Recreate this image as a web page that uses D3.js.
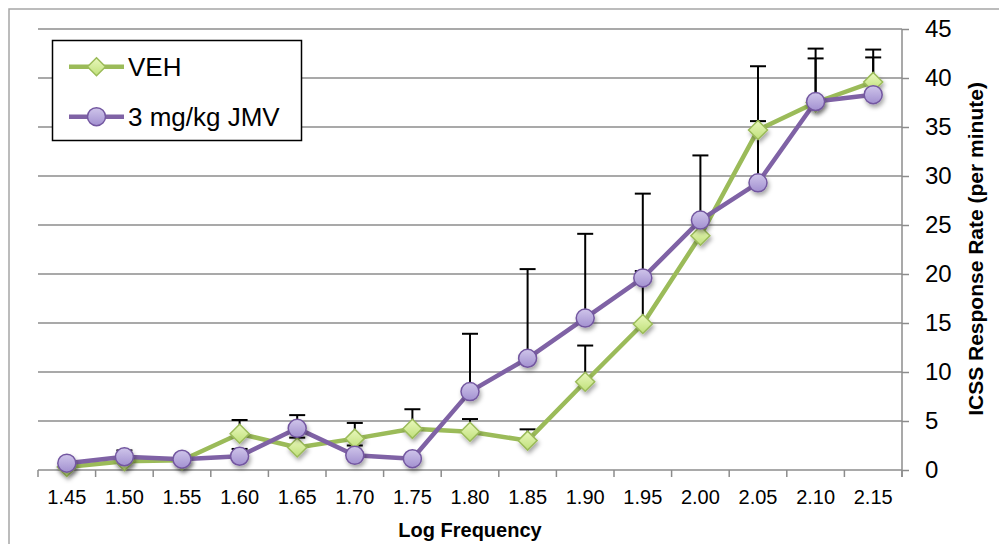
<!DOCTYPE html>
<html>
<head>
<meta charset="utf-8">
<script src="https://cdn.jsdelivr.net/npm/d3@7/dist/d3.min.js"></script>
<style>
  html, body { margin: 0; padding: 0; background: #fff; }
  svg { display: block; font-family: "Liberation Sans", Arial, sans-serif; }
</style>
</head>
<body>
<svg id="chart" width="999" height="544"></svg>
<script>
// Log stimulation frequency categories
const categories = ["1.45","1.50","1.55","1.60","1.65","1.70","1.75","1.80","1.85","1.90","1.95","2.00","2.05","2.10","2.15"];

// ICSS response rate (per minute), vehicle group
const vehValues = [0.3, 0.9, 1.0, 3.7, 2.3, 3.2, 4.2, 3.9, 3.0, 9.0, 14.9, 23.9, 34.7, 37.5, 39.6];
// upper error bar length for vehicle
const vehErrors = [0.0, 0.0, 0.0, 1.4, 1.0, 1.6, 2.0, 1.3, 1.15, 3.7, 5.4, 1.5, 6.5, 5.5, 3.3];

// ICSS response rate (per minute), 3 mg/kg JMV group
const jmvValues = [0.7, 1.35, 1.1, 1.4, 4.25, 1.5, 1.15, 8.0, 11.4, 15.5, 19.6, 25.5, 29.3, 37.6, 38.3];
// upper error bar length for JMV
const jmvErrors = [0.0, 0.65, 0.0, 0.75, 1.35, 1.0, 0.0, 5.9, 9.1, 8.6, 8.6, 6.6, 6.3, 4.4, 3.8];

const yTicks = [0, 5, 10, 15, 20, 25, 30, 35, 40, 45];
const seriesNames = ["VEH", "3 mg/kg JMV"];

const svg = d3.select("#chart");
const W = 999, H = 544;
const plotLeft = 38, plotRight = 902, plotTop = 29, plotBottom = 470;

const x = d3.scaleBand().domain(categories).range([plotLeft, plotRight]).paddingInner(0).paddingOuter(0);
const cx = c => x(c) + x.bandwidth() / 2;
const y = d3.scaleLinear().domain([0, 45]).range([plotBottom, plotTop]);

const defs = svg.append("defs");
const shadow = defs.append("filter").attr("id", "shadow")
  .attr("x", "-50%").attr("y", "-50%").attr("width", "200%").attr("height", "200%");
shadow.append("feDropShadow").attr("dx", 1.5).attr("dy", 3).attr("stdDeviation", 2)
  .attr("flood-color", "#000").attr("flood-opacity", 0.35);

const gPurple = defs.append("linearGradient").attr("id", "gPurple")
  .attr("x1", 0).attr("y1", 0).attr("x2", 0).attr("y2", 1);
gPurple.append("stop").attr("offset", "0%").attr("stop-color", "#cfc5ea");
gPurple.append("stop").attr("offset", "100%").attr("stop-color", "#a290d0");

const gGreen = defs.append("linearGradient").attr("id", "gGreen")
  .attr("x1", 0).attr("y1", 0).attr("x2", 0).attr("y2", 1);
gGreen.append("stop").attr("offset", "0%").attr("stop-color", "#eaf8bd");
gGreen.append("stop").attr("offset", "100%").attr("stop-color", "#bfe07a");

// outer frame
svg.append("rect").attr("x", 9).attr("y", 9).attr("width", W + 20).attr("height", H + 20)
  .attr("fill", "none").attr("stroke", "#a6a6a6").attr("stroke-width", 1.5);

// horizontal gridlines
svg.append("g").selectAll("line").data(yTicks.filter(d => d > 0)).join("line")
  .attr("x1", plotLeft).attr("x2", plotRight)
  .attr("y1", d => y(d)).attr("y2", d => y(d))
  .attr("stroke", "#8c8c8c").attr("stroke-width", 1.5);

// right value axis
const yAxis = svg.append("g").attr("transform", `translate(${plotRight},0)`)
  .call(d3.axisRight(y).tickValues(yTicks).tickSize(7).tickPadding(16).tickSizeOuter(0));
yAxis.select(".domain").remove();
yAxis.selectAll(".tick line").attr("stroke", "#8c8c8c").attr("stroke-width", 1.5);
yAxis.selectAll(".tick text").attr("font-size", 24).attr("fill", "#000")
  .attr("font-family", "'Liberation Sans', Arial, sans-serif");
svg.append("line").attr("x1", plotRight).attr("x2", plotRight).attr("y1", plotTop).attr("y2", plotBottom + 7)
  .attr("stroke", "#8c8c8c").attr("stroke-width", 1.5);

// bottom category axis with ticks between categories
svg.append("line").attr("x1", plotLeft).attr("x2", plotRight).attr("y1", plotBottom).attr("y2", plotBottom)
  .attr("stroke", "#8c8c8c").attr("stroke-width", 1.5);
const boundaries = categories.map(c => x(c)).concat([x(categories[categories.length - 1]) + x.bandwidth()]);
svg.append("g").selectAll("line").data(boundaries).join("line")
  .attr("x1", d => d).attr("x2", d => d).attr("y1", plotBottom).attr("y2", plotBottom + 7)
  .attr("stroke", "#8c8c8c").attr("stroke-width", 1.5);
svg.append("g").selectAll("text").data(categories).join("text")
  .attr("x", d => cx(d)).attr("y", 504)
  .attr("text-anchor", "middle").attr("font-size", 20).attr("fill", "#000")
  .text(d => d);

// axis titles
svg.append("text").attr("x", 470).attr("y", 537).attr("text-anchor", "middle")
  .attr("font-size", 20).attr("font-weight", "bold").text("Log Frequency");
svg.append("text").attr("transform", `translate(983,249) rotate(-90)`)
  .attr("text-anchor", "middle").attr("font-size", 21).attr("font-weight", "bold")
  .text("ICSS Response Rate (per minute)");

// error bars (upper only)
function errorBars(values, errors) {
  const data = categories.map((c, i) => ({c, v: values[i], e: errors[i]})).filter(d => d.e > 0);
  const g = svg.append("g");
  g.selectAll("line.stem").data(data).join("line").attr("class", "stem")
    .attr("x1", d => cx(d.c)).attr("x2", d => cx(d.c))
    .attr("y1", d => y(d.v)).attr("y2", d => y(d.v + d.e))
    .attr("stroke", "#000").attr("stroke-width", 2);
  g.selectAll("line.cap").data(data).join("line").attr("class", "cap")
    .attr("x1", d => cx(d.c) - 8).attr("x2", d => cx(d.c) + 8)
    .attr("y1", d => y(d.v + d.e)).attr("y2", d => y(d.v + d.e))
    .attr("stroke", "#000").attr("stroke-width", 2);
}
errorBars(vehValues, vehErrors);
errorBars(jmvValues, jmvErrors);

const line = d3.line().x(d => cx(d.c)).y(d => y(d.v));
const vehData = categories.map((c, i) => ({c, v: vehValues[i]}));
const jmvData = categories.map((c, i) => ({c, v: jmvValues[i]}));

const diamond = s => `M0,${-s}L${s},0L0,${s}L${-s},0Z`;

// VEH series
svg.append("path").datum(vehData).attr("d", line).attr("fill", "none")
  .attr("stroke", "#9bbb59").attr("stroke-width", 4.5).attr("stroke-linejoin", "round");
svg.append("g").selectAll("path").data(vehData).join("path")
  .attr("transform", d => `translate(${cx(d.c)},${y(d.v)})`)
  .attr("d", diamond(9.5)).attr("fill", "url(#gGreen)")
  .attr("stroke", "#9bbb59").attr("stroke-width", 1.5).attr("filter", "url(#shadow)");

// JMV series
svg.append("path").datum(jmvData).attr("d", line).attr("fill", "none")
  .attr("stroke", "#7f62a5").attr("stroke-width", 4.5).attr("stroke-linejoin", "round");
svg.append("g").selectAll("circle").data(jmvData).join("circle")
  .attr("cx", d => cx(d.c)).attr("cy", d => y(d.v)).attr("r", 9)
  .attr("fill", "url(#gPurple)").attr("stroke", "#7357a0").attr("stroke-width", 1.5)
  .attr("filter", "url(#shadow)");

// legend
const lg = svg.append("g");
lg.append("rect").attr("x", 52.5).attr("y", 40.5).attr("width", 249).attr("height", 100)
  .attr("fill", "#fff").attr("stroke", "#000").attr("stroke-width", 1.5);
const legendRows = [
  {name: seriesNames[0], y: 66.7, color: "#9bbb59", kind: "diamond"},
  {name: seriesNames[1], y: 116.7, color: "#7f62a5", kind: "circle"}
];
legendRows.forEach(r => {
  lg.append("line").attr("x1", 69).attr("x2", 124).attr("y1", r.y).attr("y2", r.y)
    .attr("stroke", r.color).attr("stroke-width", 4.5);
  if (r.kind === "diamond") {
    lg.append("path").attr("transform", `translate(96.5,${r.y})`).attr("d", diamond(9))
      .attr("fill", "url(#gGreen)").attr("stroke", "#9bbb59").attr("stroke-width", 1.5);
  } else {
    lg.append("circle").attr("cx", 96.5).attr("cy", r.y).attr("r", 9)
      .attr("fill", "url(#gPurple)").attr("stroke", "#7357a0").attr("stroke-width", 1.5);
  }
  lg.append("text").attr("x", 128).attr("y", r.y + 9.5).attr("font-size", 26).attr("fill", "#000")
    .text(r.name);
});
</script>
</body>
</html>
